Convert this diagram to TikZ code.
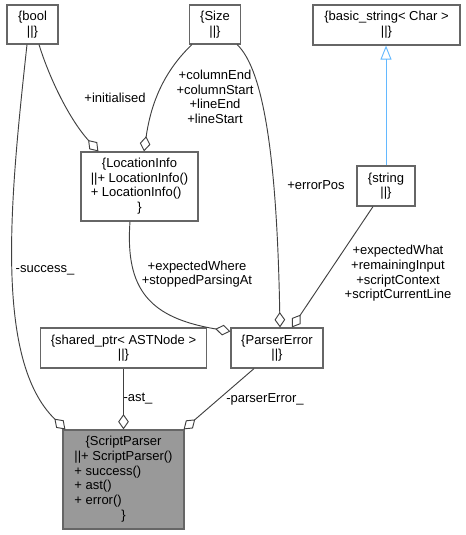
\documentclass[tikz,border=0pt]{standalone}
\usepackage{fontspec}
\setmainfont{Liberation Sans}
\usetikzlibrary{arrows.meta,calc}
\definecolor{edgegray}{HTML}{404040}
\definecolor{boxgray}{HTML}{666666}
\definecolor{clsfill}{HTML}{999999}
\definecolor{inhblue}{HTML}{63B8FF}
\newcommand{\ctr}[1]{\multicolumn{1}{@{}c@{}}{#1}}
\begin{document}
\begin{tikzpicture}[x=0.75pt,y=-0.75pt,
        font=\fontsize{9.75}{11}\selectfont,
        cls/.style={draw=boxgray,line width=0.9pt,fill=white,inner sep=0pt,
            minimum height=29.25pt,align=center},
        lbl/.style={inner sep=0pt,align=center},
        agg/.style={draw=edgegray,line width=0.7pt,-{Diamond[open,length=11.5pt,width=8pt]}},
        inh/.style={draw=inhblue,line width=0.7pt,-{Triangle[open,length=10.5pt,width=8.25pt]}}]
    \useasboundingbox (0,0) rectangle (465,535);
    % classes
    \node[cls,minimum width=38.25pt] (bool) at (32.5,24.5) {\{bool\\||\}};
    \node[cls,minimum width=38.25pt] (size) at (215,24.5) {\{Size\\||\}};
    \node[cls,minimum width=110.25pt,minimum height=30pt] (bstr) at (386.5,25) {\{basic\_string< Char >\\||\}};
    \node[cls,minimum width=43.5pt,minimum height=30pt] (str) at (386,186) {\{string\\||\}};
    \node[cls,minimum width=87.75pt,minimum height=51.75pt] (locinfo) at (139.5,186.5)
        {\begin{tabular}{@{}l@{}}\ctr{\{LocationInfo}\\||+ LocationInfo()\\+ LocationInfo()\\\ctr{\}}\end{tabular}};
    \node[cls,minimum width=124.5pt,minimum height=30pt] (astptr) at (123.5,348) {\{shared\_ptr< ASTNode >\\||\}};
    \node[cls,minimum width=69pt,minimum height=30pt] (perr) at (277,348) {\{ParserError\\||\}};
    \node[cls,fill=clsfill,minimum width=90.75pt,minimum height=74.25pt] (parser) at (123.5,479.5)
        {\begin{tabular}{@{}l@{}}\ctr{\{ScriptParser}\\||+ ScriptParser()\\+ success()\\+ ast()\\+ error()\\\ctr{\}}\end{tabular}};
    % members
    \draw[agg] ($(bool.south)+(-5.5,0)$) .. controls (10,200) and (-6,360) .. ($(parser.north west)+(3,0)$);
    \draw[agg] ($(bool.south)+(6.5,0)$) .. controls (50,80) and (70,120) .. ($(locinfo.north west)+(18,0)$);
    \draw[agg] ($(size.south west)+(3,0)$) .. controls (160,75) and (150,110) .. ($(locinfo.north)+(4.5,0)$);
    \draw[agg] ($(size.south east)+(-4,0)$) .. controls (264,70) and (277,160) .. ($(perr.north)+(3,0)$);
    \draw[inh] (str.north) -- (str.north |- bstr.south);
    \draw[agg] ($(str.south)+(-13,0)$) -- ($(perr.north)+(15,0)$);
    \draw[agg] ($(locinfo.south)+(-9.5,0)$) .. controls (125,290) and (150,318) .. ($(perr.north west)+(0,4)$);
    \draw[agg] (astptr.south) -- (parser.north);
    \draw[agg] ($(perr.south)+(-23,0)$) -- ($(parser.north east)+(-1,0)$);
    % labels
    \node[lbl] (lsucc) at (45,270) {-success\_};
    \node[lbl] (linit) at (115,98) {+initialised};
    \node[lbl] (lsize) at (215,97) {+columnEnd\\+columnStart\\+lineEnd\\+lineStart};
    \node[lbl] (lepos) at (316,185) {+errorPos};
    \node[lbl] (lstr) at (398,273.5) {+expectedWhat\\+remainingInput\\+scriptContext\\+scriptCurrentLine};
    \node[lbl] (lloc) at (197,274) {+expectedWhere\\+stoppedParsingAt};
    \node[lbl] (last) at (138,399) {-ast\_};
    \node[lbl] (lperr) at (265,399) {-parserError\_};
\end{tikzpicture}
\end{document}
